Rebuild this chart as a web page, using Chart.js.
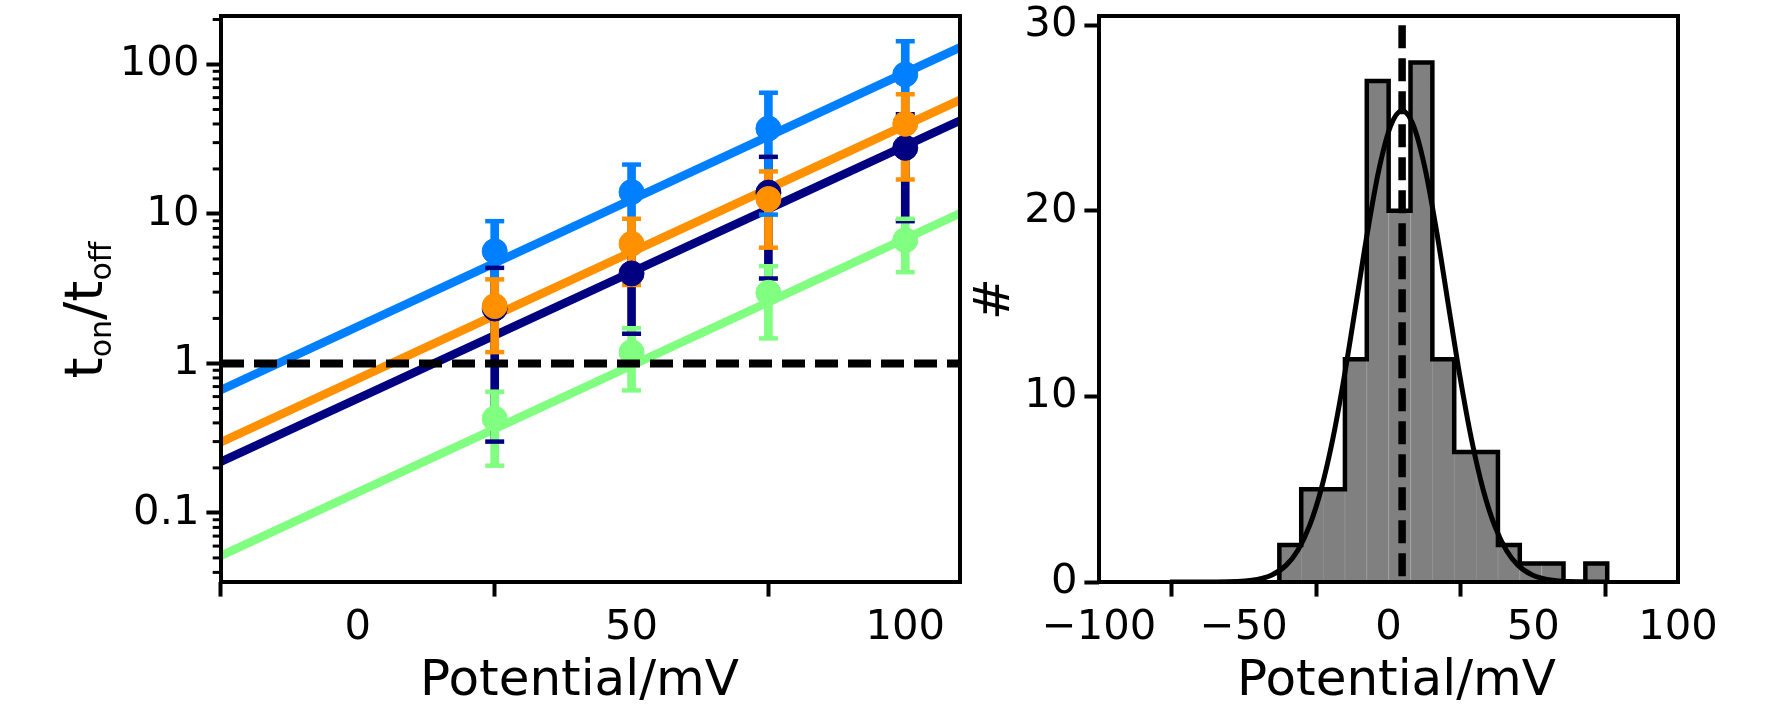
<!DOCTYPE html>
<html>
<head>
<meta charset="utf-8">
<script src="https://cdn.jsdelivr.net/npm/chart.js@4.4.0/dist/chart.umd.min.js"></script>
<style>
  html, body { margin: 0; padding: 0; background: #ffffff; }
  #wrap { position: relative; width: 1772px; height: 709px; overflow: hidden; background: #ffffff; }
  #left { position: absolute; left: 0; top: 0; }
  #right { position: absolute; left: 950px; top: 0; }
</style>
</head>
<body>
<div id="wrap">
  <canvas id="left" width="965" height="709"></canvas>
  <canvas id="right" width="822" height="709"></canvas>
</div>
<script>
// ---------------- data: left panel (t_on / t_off vs potential) ----------------
const potential = [25, 50, 75, 100];

const navyRatio   = [2.33, 4.0, 13.9, 27.7];
const navyErr     = [2.03, 2.42, 10.2, 18.75];
const blueRatio   = [5.64, 14.0, 37.3, 85.7];
const blueErr     = [3.31, 7.4, 27.4, 57.3];
const orangeRatio = [2.42, 6.32, 12.6, 40.1];
const orangeErr   = [1.23, 2.97, 6.65, 23.1];
const greenRatio  = [0.427, 1.19, 2.97, 6.68];
const greenErr    = [0.22, 0.53, 1.5, 2.6];

const fitPotential = [-25, 110];
const navyFit   = [0.220, 42.1];
const blueFit   = [0.665, 130];
const orangeFit = [0.297, 57.9];
const greenFit  = [0.0518, 10.1];
const thresholdRatio = 1;

const leftXTicks = [0, 50, 100];
const leftXTickLabels = ['0', '50', '100'];
const leftYMajorTicks = [0.1, 1, 10, 100];
const leftYTickLabels = ['0.1', '1', '10', '100'];
const leftYMinorTicks = [0.04, 0.05, 0.06, 0.07, 0.08, 0.09,
                         0.2, 0.3, 0.4, 0.5, 0.6, 0.7, 0.8, 0.9,
                         2, 3, 4, 5, 6, 7, 8, 9,
                         20, 30, 40, 50, 60, 70, 80, 90, 200];

// ---------------- data: right panel (histogram) ----------------
const histEdges  = [-37.7, -30.15, -22.6, -15.05, -7.5, 0.05, 7.6, 15.15, 22.7,
                    30.25, 37.8, 45.35, 52.9, 60.45, 68.0, 75.55];
const histCounts = [2, 5, 5, 12, 27, 20, 28, 12, 7, 7, 2, 1, 1, 0, 1];

const fitCurveX = [-75.5, -65.3, -55.3, -45.3, -40.3, -35.3, -31.3, -27.3, -23.3, -19.3,
                   -15.3, -11.3, -7.3, -3.3, 0.7, 4.7, 8.7, 12.7, 16.7, 20.7,
                   24.7, 28.7, 32.7, 36.7, 40.7, 44.7, 49.7, 54.7, 64.7, 75.5];
const fitCurveY = [0.0, 0.001, 0.014, 0.14, 0.375, 0.91, 1.71, 3.02, 4.97, 7.66,
                   11.05, 14.91, 18.82, 22.23, 24.57, 25.4, 24.57, 22.23, 18.82, 14.91,
                   11.05, 7.66, 4.97, 3.02, 1.71, 0.91, 0.375, 0.14, 0.014, 0.001];
const meanPotential = 4.7;
const meanLineSpan = [30, 0];

const rightXTicks = [-100, -50, 0, 50, 100];
const rightXTickLabels = ['\u2212100', '\u221250', '0', '50', '100'];
const rightYTicks = [0, 10, 20, 30];
const rightYTickLabels = ['0', '10', '20', '30'];

// ---------------- styling ----------------
const FAMILY = '"DejaVu Sans", "Liberation Sans", sans-serif';
const TICK_PX = 41.7;
const LABEL_PX = 50;
const MAJ_LEN = 14.6, MIN_LEN = 8.3, MAJ_W = 4, MIN_W = 3, SPINE_W = 4;
const Y_TICK_PAD = 7;

const series = [
  { color: '#000080', vals: navyRatio,   errs: navyErr,   fit: navyFit,   rank: 3 },
  { color: '#0080ff', vals: blueRatio,   errs: blueErr,   fit: blueFit,   rank: 2 },
  { color: '#ff9000', vals: orangeRatio, errs: orangeErr, fit: orangeFit, rank: 1 },
  { color: '#80ff80', vals: greenRatio,  errs: greenErr,  fit: greenFit,  rank: 0 }
];

function isMajorLog(v) {
  return leftYMajorTicks.some(m => Math.abs(Math.log10(v) - Math.log10(m)) < 1e-6);
}

// ---------------- left chart datasets ----------------
const leftDatasets = [];
series.forEach(s => {
  leftDatasets.push({
    type: 'line',
    data: fitPotential.map((x, k) => ({ x: x, y: s.fit[k] })),
    borderColor: s.color, borderWidth: 8.5, pointRadius: 0, fill: false,
    order: 40 + s.rank
  });
  leftDatasets.push({
    type: 'bar',
    data: potential.map((x, k) => ({ x: x, y: [s.vals[k] - s.errs[k], s.vals[k] + s.errs[k]] })),
    backgroundColor: s.color, borderWidth: 0, barThickness: 8, grouped: false,
    order: 30 + s.rank
  });
  leftDatasets.push({
    type: 'scatter',
    data: potential.flatMap((x, k) => [
      { x: x, y: s.vals[k] - s.errs[k] },
      { x: x, y: s.vals[k] + s.errs[k] }
    ]),
    pointStyle: 'line', pointRadius: 9.5, pointBorderColor: s.color,
    pointBackgroundColor: s.color, pointBorderWidth: 4.5,
    order: 20 + s.rank
  });
  leftDatasets.push({
    type: 'scatter',
    data: potential.map((x, k) => ({ x: x, y: s.vals[k] })),
    pointStyle: 'circle', pointRadius: 12.5, pointBackgroundColor: s.color,
    pointBorderColor: s.color, pointBorderWidth: 1,
    order: 10 + s.rank
  });
});
leftDatasets.push({
  type: 'line',
  data: fitPotential.map(x => ({ x: x, y: thresholdRatio })),
  borderColor: '#000000', borderWidth: 8, borderDash: [23, 10],
  pointRadius: 0, fill: false, order: 0
});

function zeroPadding(s) {
  s.paddingTop = 0; s.paddingBottom = 0; s.paddingLeft = 0; s.paddingRight = 0;
}

const leftDecor = {
  id: 'leftDecor',
  afterDatasetsDraw(chart) {
    const { ctx, chartArea: a } = chart;
    const y = chart.scales.y;
    ctx.save();
    ctx.strokeStyle = '#000000';
    ctx.lineWidth = MIN_W;
    leftYMinorTicks.forEach(v => {
      const py = y.getPixelForValue(v);
      ctx.beginPath();
      ctx.moveTo(a.left - MIN_LEN, py);
      ctx.lineTo(a.left, py);
      ctx.stroke();
    });
    ctx.lineWidth = SPINE_W;
    ctx.strokeRect(a.left, a.top, a.right - a.left, a.bottom - a.top);
    ctx.restore();
  },
  afterDraw(chart) {
    const { ctx, chartArea: a } = chart;
    ctx.save();
    ctx.fillStyle = '#000000';
    ctx.textBaseline = 'alphabetic';
    // x title
    ctx.font = LABEL_PX + 'px ' + FAMILY;
    ctx.textAlign = 'center';
    ctx.fillText('Potential/mV', (a.left + a.right) / 2 - 11, 695);
    // y title with subscripts
    const mainPx = 54, subPx = 30, subShift = 9;
    const runs = [['t', false], ['on', true], ['/', false], ['t', false], ['off', true]];
    let total = 0;
    runs.forEach(r => {
      ctx.font = (r[1] ? subPx : mainPx) + 'px ' + FAMILY;
      total += ctx.measureText(r[0]).width;
    });
    ctx.translate(102, 310);
    ctx.rotate(-Math.PI / 2);
    ctx.textAlign = 'left';
    let xx = -total / 2;
    runs.forEach(r => {
      ctx.font = (r[1] ? subPx : mainPx) + 'px ' + FAMILY;
      ctx.fillText(r[0], xx, r[1] ? subShift : 0);
      xx += ctx.measureText(r[0]).width;
    });
    ctx.restore();
  }
};

new Chart(document.getElementById('left'), {
  type: 'scatter',
  data: { datasets: leftDatasets },
  plugins: [leftDecor],
  options: {
    responsive: false,
    animation: false,
    devicePixelRatio: 1,
    events: [],
    layout: { padding: { left: 0, top: 16, right: 5, bottom: 0 }, autoPadding: false },
    plugins: { legend: { display: false }, tooltip: { enabled: false } },
    scales: {
      x: {
        type: 'linear', position: 'bottom', min: -25, max: 110, offset: false, bounds: 'data',
        afterBuildTicks: s => { s.ticks = leftXTicks.map(v => ({ value: v })); },
        afterFit: s => { s.height = 127; zeroPadding(s); },
        ticks: {
          autoSkip: false, maxRotation: 0, padding: 6.7, color: '#000000',
          font: { family: FAMILY, size: TICK_PX },
          callback: (v, i) => leftXTickLabels[i]
        },
        grid: { drawOnChartArea: false, drawTicks: true, tickLength: MAJ_LEN, tickWidth: MAJ_W, tickColor: '#000000' },
        border: { display: false }
      },
      y: {
        type: 'logarithmic', position: 'left', min: 0.0345, max: 211, bounds: 'data',
        afterBuildTicks: s => {
          s.ticks = leftYMajorTicks.concat(leftYMinorTicks).sort((a, b) => a - b).map(v => ({ value: v }));
        },
        afterFit: s => { s.width = 221; zeroPadding(s); },
        ticks: {
          autoSkip: false, padding: Y_TICK_PAD, color: '#000000',
          font: { family: FAMILY, size: TICK_PX },
          callback: v => {
            const k = leftYMajorTicks.findIndex(m => Math.abs(Math.log10(v) - Math.log10(m)) < 1e-6);
            return k >= 0 ? leftYTickLabels[k] : '';
          }
        },
        grid: {
          drawOnChartArea: false, drawTicks: true, tickLength: MAJ_LEN, tickWidth: MAJ_W,
          tickColor: c => (c.tick && isMajorLog(c.tick.value)) ? '#000000' : 'rgba(0,0,0,0)'
        },
        border: { display: false }
      }
    }
  }
});

// ---------------- right chart ----------------
const histCenters = histCounts.map((c, k) => (histEdges[k] + histEdges[k + 1]) / 2);
const stepOutline = [{ x: histEdges[0], y: 0 }]
  .concat(histCounts.map((c, k) => ({ x: histEdges[k], y: c })))
  .concat([{ x: histEdges[histEdges.length - 1], y: 0 }]);

const rightDecor = {
  id: 'rightDecor',
  afterDatasetsDraw(chart) {
    const { ctx, chartArea: a } = chart;
    ctx.save();
    ctx.strokeStyle = '#000000';
    ctx.lineWidth = SPINE_W;
    ctx.strokeRect(a.left, a.top, a.right - a.left, a.bottom - a.top);
    ctx.restore();
  },
  afterDraw(chart) {
    const { ctx, chartArea: a } = chart;
    ctx.save();
    ctx.fillStyle = '#000000';
    ctx.textBaseline = 'alphabetic';
    ctx.font = LABEL_PX + 'px ' + FAMILY;
    ctx.textAlign = 'center';
    ctx.fillText('Potential/mV', (a.left + a.right) / 2 + 8, 695);
    ctx.translate(59, (a.top + a.bottom) / 2);
    ctx.rotate(-Math.PI / 2);
    ctx.fillText('#', 0, 0);
    ctx.restore();
  }
};

new Chart(document.getElementById('right'), {
  type: 'scatter',
  data: {
    datasets: [
      {
        type: 'bar',
        data: histCenters.map((x, k) => ({ x: x, y: histCounts[k] })),
        backgroundColor: '#808080',
        borderColor: '#8f8f8f',
        borderWidth: { left: 1, right: 0, top: 0, bottom: 0 },
        borderSkipped: false,
        barPercentage: 1, categoryPercentage: 1, grouped: false,
        order: 3
      },
      {
        type: 'line',
        data: stepOutline,
        stepped: 'before',
        borderColor: '#000000', borderWidth: 4.5, pointRadius: 0, fill: false,
        order: 2
      },
      {
        type: 'line',
        data: fitCurveX.map((x, k) => ({ x: x, y: fitCurveY[k] })),
        cubicInterpolationMode: 'monotone',
        borderColor: '#000000', borderWidth: 5, pointRadius: 0, fill: false,
        order: 1
      },
      {
        type: 'line',
        data: meanLineSpan.map(v => ({ x: meanPotential, y: v })),
        borderColor: '#000000', borderWidth: 7.5, borderDash: [23, 10],
        pointRadius: 0, fill: false,
        order: 0
      }
    ]
  },
  plugins: [rightDecor],
  options: {
    responsive: false,
    animation: false,
    devicePixelRatio: 1,
    events: [],
    layout: { padding: { left: 0, top: 16, right: 94, bottom: 0 }, autoPadding: false },
    plugins: { legend: { display: false }, tooltip: { enabled: false } },
    scales: {
      x: {
        type: 'linear', position: 'bottom', min: -100, max: 100, offset: false, bounds: 'data',
        afterBuildTicks: s => { s.ticks = rightXTicks.map(v => ({ value: v })); },
        afterFit: s => { s.height = 127; zeroPadding(s); },
        ticks: {
          autoSkip: false, maxRotation: 0, padding: 6.7, color: '#000000',
          font: { family: FAMILY, size: TICK_PX },
          callback: (v, i) => rightXTickLabels[i]
        },
        grid: { drawOnChartArea: false, drawTicks: true, tickLength: MAJ_LEN, tickWidth: MAJ_W, tickColor: '#000000' },
        border: { display: false }
      },
      y: {
        type: 'linear', position: 'left', min: 0, max: 30.5, bounds: 'data',
        afterBuildTicks: s => { s.ticks = rightYTicks.map(v => ({ value: v })); },
        afterFit: s => { s.width = 149; zeroPadding(s); },
        ticks: {
          autoSkip: false, padding: Y_TICK_PAD, color: '#000000',
          font: { family: FAMILY, size: TICK_PX },
          callback: (v, i) => rightYTickLabels[i]
        },
        grid: { drawOnChartArea: false, drawTicks: true, tickLength: MAJ_LEN, tickWidth: MAJ_W, tickColor: '#000000' },
        border: { display: false }
      }
    }
  }
});
</script>
</body>
</html>
